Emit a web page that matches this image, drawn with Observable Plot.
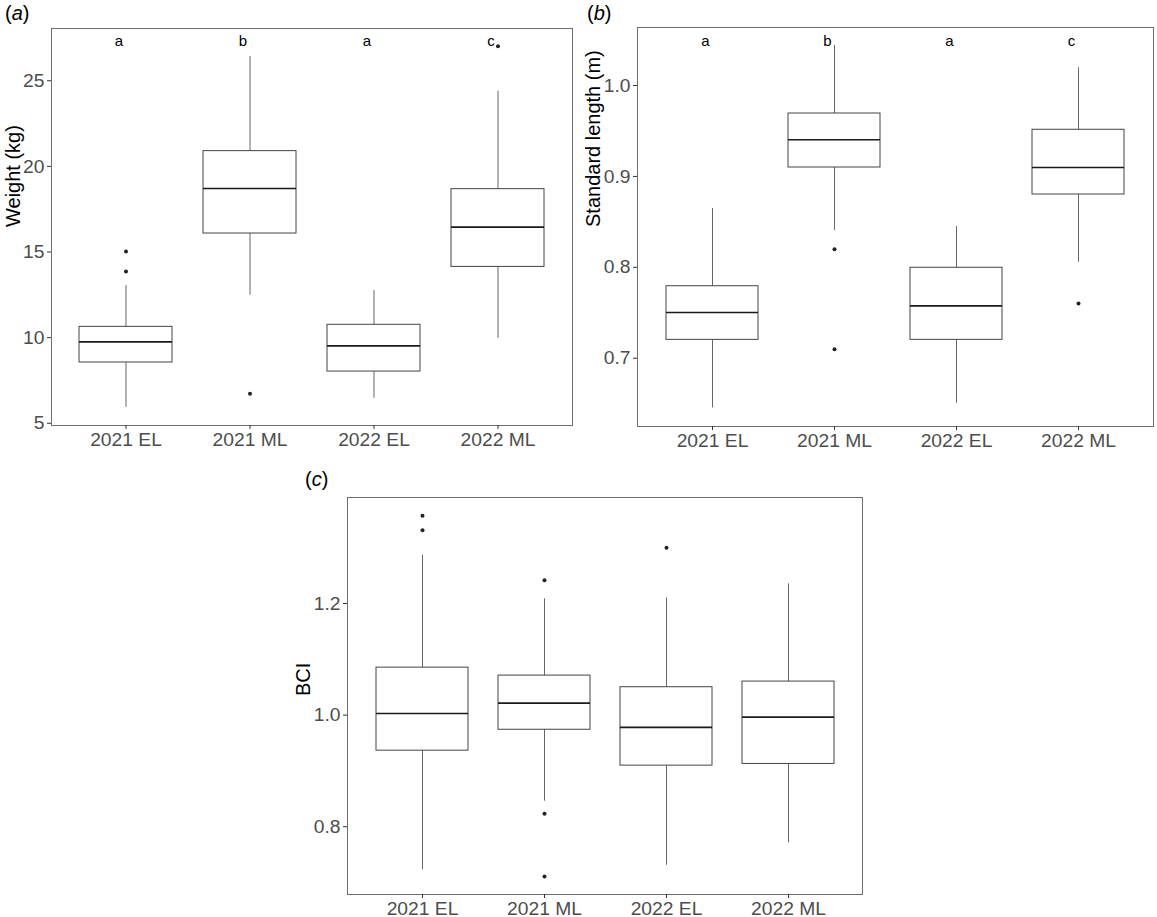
<!DOCTYPE html>
<html>
<head>
<meta charset="utf-8">
<script src="https://cdn.jsdelivr.net/npm/d3@7"></script>
<script src="https://cdn.jsdelivr.net/npm/@observablehq/plot@0.6"></script>
<style>
  html, body { margin: 0; padding: 0; background: #fff; }
  #root { position: relative; width: 1157px; height: 917px; font-family: "Liberation Sans", Arial, sans-serif; }
  .panel { position: absolute; }
  .tag { position: absolute; font-size: 20px; color: #000; line-height: 1; }
</style>
</head>
<body>
<div id="root"></div>
<script>
// ---- Data ----
const categories = ["2021 EL", "2021 ML", "2022 EL", "2022 ML"];
const sigLetters = ["a", "b", "a", "c"];

// (a) Weight (kg)
const weightLow  = [5.93, 12.48, 6.46, 9.96];
const weightQ1   = [8.55, 16.08, 8.02, 14.13];
const weightMed  = [9.75, 18.71, 9.52, 16.45];
const weightQ3   = [10.63, 20.89, 10.75, 18.67];
const weightHigh = [13.04, 26.42, 12.75, 24.39];
const weightOutCat = ["2021 EL", "2021 EL", "2021 ML", "2022 ML"];
const weightOutVal = [15.03, 13.86, 6.72, 27.02];
const weightLetterY = 27.3;
const weightTicks = [5, 10, 15, 20, 25];

// (b) Standard length (m)
const lengthLow  = [0.6454, 0.8405, 0.6505, 0.8056];
const lengthQ1   = [0.7202, 0.9098, 0.7202, 0.8801];
const lengthMed  = [0.7503, 0.9403, 0.7576, 0.9098];
const lengthQ3   = [0.7792, 0.9692, 0.7995, 0.9513];
const lengthHigh = [0.8647, 1.0443, 0.8449, 1.0195];
const lengthOutCat = ["2021 ML", "2021 ML", "2022 ML"];
const lengthOutVal = [0.8199, 0.7099, 0.7602];
const lengthLetterY = 1.0487;
const lengthTicks = [0.7, 0.8, 0.9, 1.0];

// (c) BCI
const bciLow  = [0.7232, 0.8458, 0.7310, 0.7714];
const bciQ1   = [0.9363, 0.9738, 0.9095, 0.9125];
const bciMed  = [1.0030, 1.0214, 0.9780, 0.9964];
const bciQ3   = [1.0851, 1.0708, 1.0500, 1.0601];
const bciHigh = [1.2863, 1.2083, 1.2101, 1.2351];
const bciOutCat = ["2021 EL", "2021 EL", "2021 ML", "2021 ML", "2021 ML", "2022 EL"];
const bciOutVal = [1.3571, 1.3310, 1.2417, 0.8232, 0.7107, 1.3000];
const bciTicks = [0.8, 1.0, 1.2];

// ---- Helpers ----
function boxTable(low, q1, med, q3, high) {
  return categories.map((c, i) => ({c, low: low[i], q1: q1[i], med: med[i], q3: q3[i], high: high[i]}));
}
function outTable(cats, vals) { return cats.map((c, i) => ({c, v: vals[i]})); }

const FONT = "Liberation Sans, Arial, sans-serif";

function makePanel(o) {
  const boxes = boxTable(...o.stats);
  const outs = outTable(o.outCat, o.outVal);
  const marks = [
    Plot.ruleX(boxes, {x: "c", y1: "low", y2: "high", stroke: "#555", strokeWidth: 0.9}),
    Plot.barY(boxes, {x: "c", y1: "q1", y2: "q3", fill: "white", stroke: "#444", strokeWidth: 1}),
    Plot.tickY(boxes, {x: "c", y: "med", stroke: "#1a1a1a", strokeWidth: 1.6}),
    Plot.dot(outs, {x: "c", y: "v", r: 2, fill: "#222", stroke: "none"}),
    Plot.frame({stroke: "#6e6e6e", strokeWidth: 1}),
    Plot.axisX({tickSize: 4, tickPadding: 3, stroke: "#333", fill: "#4d4d4d", fontSize: 19.25, label: null}),
    Plot.axisY({ticks: o.ticks, tickFormat: o.fmt, tickSize: 4, tickPadding: 3, stroke: "#333", fill: "#4d4d4d", fontSize: 19.25, label: null}),
    Plot.text([o.title], {frameAnchor: "left", dx: o.titleDx, rotate: -90, fontSize: 20, fill: "#000", fontFamily: FONT})
  ];
  if (o.letterY != null) {
    marks.push(Plot.text(categories.map((c, i) => ({c, l: sigLetters[i]})),
      {x: "c", y: () => o.letterY, text: "l", fontSize: 15, fill: "#000", fontFamily: FONT, dx: -7}));
  }
  const svg = Plot.plot({
    width: o.width, height: o.height,
    marginLeft: o.ml, marginRight: o.mr, marginTop: o.mt, marginBottom: o.mb,
    style: {fontFamily: FONT, background: "transparent", overflow: "visible"},
    x: {type: "band", domain: categories, paddingInner: 0.25, paddingOuter: 0.225, label: null},
    y: {domain: o.domain, label: null},
    marks
  });
  const div = document.createElement("div");
  div.className = "panel";
  div.style.left = o.left + "px";
  div.style.top = o.top + "px";
  div.appendChild(svg);
  return div;
}

const root = document.getElementById("root");

root.appendChild(makePanel({
  stats: [weightLow, weightQ1, weightMed, weightQ3, weightHigh],
  outCat: weightOutCat, outVal: weightOutVal, letterY: weightLetterY,
  ticks: weightTicks, fmt: d3.format("d"), domain: [4.87, 28.05],
  title: "Weight (kg)", titleDx: -38,
  left: 0, top: 0, width: 580, height: 460, ml: 51, mr: 8, mt: 28, mb: 35
}));

root.appendChild(makePanel({
  stats: [lengthLow, lengthQ1, lengthMed, lengthQ3, lengthHigh],
  outCat: lengthOutCat, outVal: lengthOutVal, letterY: lengthLetterY,
  ticks: lengthTicks, fmt: d3.format(".1f"), domain: [0.6249, 1.0638],
  title: "Standard length (m)", titleDx: -44,
  left: 580, top: 0, width: 577, height: 460, ml: 57, mr: 4, mt: 27, mb: 34
}));

root.appendChild(makePanel({
  stats: [bciLow, bciQ1, bciMed, bciQ3, bciHigh],
  outCat: bciOutCat, outVal: bciOutVal, letterY: null,
  ticks: bciTicks, fmt: d3.format(".1f"), domain: [0.6786, 1.3899],
  title: "BCI", titleDx: -44,
  left: 280, top: 460, width: 600, height: 457, ml: 67, mr: 18, mt: 37, mb: 23
}));

// Panel tags
const tags = [["a", 5, 3], ["b", 587, 3], ["c", 305, 469]];
for (const [t, x, y] of tags) {
  const s = document.createElement("div");
  s.className = "tag";
  s.style.left = x + "px";
  s.style.top = y + "px";
  s.innerHTML = "(<i>" + t + "</i>)";
  root.appendChild(s);
}
</script>
</body>
</html>
